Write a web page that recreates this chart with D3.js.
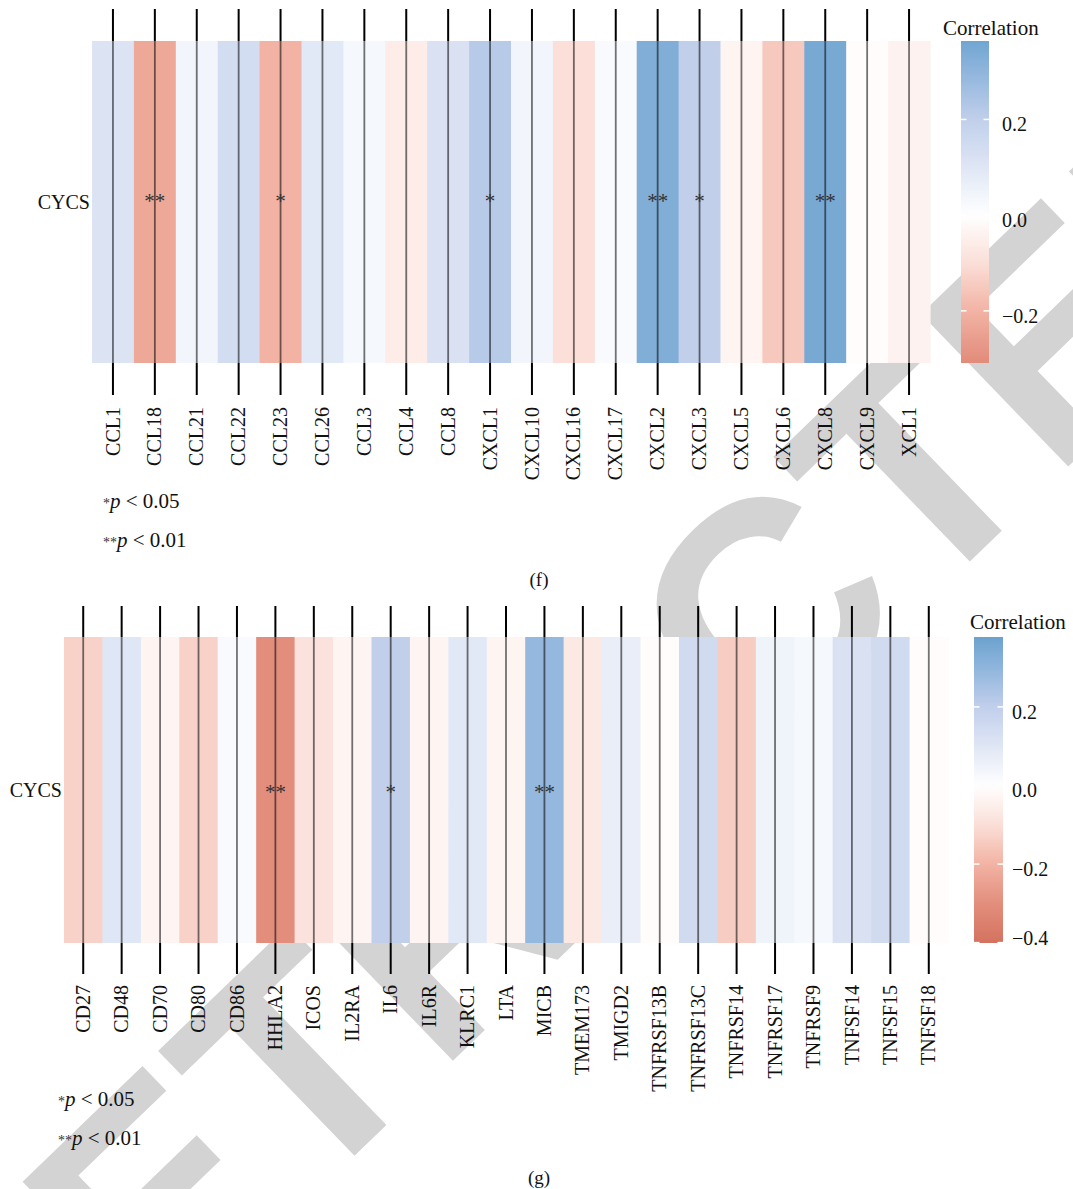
<!DOCTYPE html>
<html>
<head>
<meta charset="utf-8">
<script src="https://cdn.jsdelivr.net/npm/d3@7"></script>
<style>
  body { margin: 0; background: #fff; }
  text { font-family: "Liberation Serif", "Times New Roman", serif; }
</style>
</head>
<body>
<svg id="chart" width="1073" height="1189"></svg>
<script>
// ---- data -------------------------------------------------------------
const rowLabel = "CYCS";

// panel (f): chemokines
const genesF = ["CCL1","CCL18","CCL21","CCL22","CCL23","CCL26","CCL3","CCL4","CCL8","CXCL1",
                "CXCL10","CXCL16","CXCL17","CXCL2","CXCL3","CXCL5","CXCL6","CXCL8","CXCL9","XCL1"];
const corrF  = [0.11,-0.23,0.04,0.14,-0.20,0.09,0.03,-0.06,0.12,0.22,
                0.04,-0.10,0.02,0.33,0.20,-0.03,-0.15,0.35,-0.01,-0.04];
const sigF   = ["","**","","","*","","","","","*",
                "","","","**","*","","","**","",""];

// panel (g): immunostimulators
const genesG = ["CD27","CD48","CD70","CD80","CD86","HHLA2","ICOS","IL2RA","IL6","IL6R","KLRC1","LTA",
                "MICB","TMEM173","TMIGD2","TNFRSF13B","TNFRSF13C","TNFRSF14","TNFRSF17","TNFRSF9",
                "TNFSF14","TNFSF15","TNFSF18"];
const corrG  = [-0.13,0.10,-0.03,-0.13,0.02,-0.30,-0.09,-0.03,0.20,-0.03,0.09,-0.03,
                0.29,-0.07,0.07,-0.01,0.15,-0.14,0.05,0.03,
                0.12,0.15,-0.01];
const sigG   = ["","","","","","**","","","*","","","",
                "**","","","","","","","",
                "","",""];

// colour bar limits and ticks
const legendRangeF = [-0.309, 0.364];
const legendRangeG = [-0.401, 0.378];
const legendTicksF = [-0.2, 0.0, 0.2];
const legendTicksG = [-0.4, -0.2, 0.0, 0.2];
const legendTitle = "Correlation";

// diverging palette
const paletteValues = [-0.40, -0.30, -0.20, -0.10, 0.00, 0.10, 0.20, 0.30, 0.38];
const paletteColors = ["#d4725f","#e38e7d","#f2b3a4","#fbdfd8","#ffffff","#dfe6f5","#c1cfeb","#8fb5dc","#6aa2ce"];

const sigNotes = [["*", "0.05"], ["**", "0.01"]];
const panelTags = ["(f)", "(g)"];

// ---- drawing ----------------------------------------------------------
const svg = d3.select("#chart");
svg.append("rect").attr("width", 1073).attr("height", 1189).attr("fill", "#fff");

// background stamp, clipped to the page
svg.append("defs").append("clipPath").attr("id", "page")
  .append("rect").attr("width", 1073).attr("height", 1189);
svg.append("g").attr("clip-path", "url(#page)")
  .append("text")
  .attr("transform", "translate(-5,1503) rotate(-44)")
  .style("font-family", "'Liberation Sans', Arial, sans-serif")
  .attr("font-weight", "bold")
  .attr("font-size", 308)
  .attr("fill", "#d3d3d3")
  .text("RETRACTED");

const color = d3.scaleLinear()
  .domain(paletteValues)
  .range(paletteColors)
  .interpolate(d3.interpolateRgb)
  .clamp(true);

function drawPanel(cfg, idx) {
  const g = svg.append("g");
  const x = d3.scaleBand().domain(cfg.genes).range([cfg.x0, cfg.x1]);
  const bw = x.bandwidth();
  const rowMid = (cfg.y0 + cfg.y1) / 2;

  // cells
  g.selectAll("rect.cell")
    .data(cfg.genes.map((d, i) => ({ gene: d, v: cfg.values[i], s: cfg.sig[i] })))
    .join("rect")
    .attr("class", "cell")
    .attr("x", d => x(d.gene))
    .attr("width", bw + 0.6)
    .attr("y", cfg.y0)
    .attr("height", cfg.y1 - cfg.y0)
    .attr("fill", d => color(d.v));

  // guide lines running through the cells
  g.selectAll("line.inner")
    .data(cfg.genes)
    .join("line")
    .attr("x1", d => x(d) + bw / 2)
    .attr("x2", d => x(d) + bw / 2)
    .attr("y1", cfg.y0)
    .attr("y2", cfg.y1)
    .attr("stroke", "#000")
    .attr("stroke-opacity", 0.55)
    .attr("stroke-width", 1.8);

  // top ticks
  const top = g.append("g")
    .attr("transform", `translate(0,${cfg.y0})`)
    .call(d3.axisTop(x).tickSize(cfg.tickLen).tickFormat(""));
  top.select(".domain").remove();
  top.selectAll(".tick line").attr("stroke", "#000").attr("stroke-width", 2);

  // bottom ticks + gene labels
  const bottom = g.append("g")
    .attr("transform", `translate(0,${cfg.y1})`)
    .call(d3.axisBottom(x).tickSize(cfg.tickLen));
  bottom.select(".domain").remove();
  bottom.selectAll(".tick line").attr("stroke", "#000").attr("stroke-width", 2);
  bottom.selectAll(".tick text")
    .attr("transform", "rotate(-90)")
    .attr("x", -(cfg.tickLen + cfg.labelGap))
    .attr("y", 0)
    .attr("dy", "0.33em")
    .attr("text-anchor", "end")
    .attr("fill", "#111")
    .style("font-family", "'Liberation Serif', 'Times New Roman', serif")
    .style("font-size", "20px");

  // significance marks
  g.selectAll("text.sig")
    .data(cfg.genes.map((d, i) => ({ gene: d, s: cfg.sig[i] })).filter(d => d.s))
    .join("text")
    .attr("class", "sig")
    .attr("x", d => x(d.gene) + bw / 2)
    .attr("y", rowMid + cfg.starShift)
    .attr("text-anchor", "middle")
    .attr("font-size", 21)
    .attr("fill", "#333")
    .text(d => d.s);

  // row label
  g.append("text")
    .attr("x", cfg.rowLabelX)
    .attr("y", rowMid)
    .attr("dy", "0.35em")
    .attr("text-anchor", "end")
    .attr("font-size", 20)
    .attr("fill", "#111")
    .text(rowLabel);

  // colour bar
  const L = cfg.legend;
  const gradId = "grad" + idx;
  const grad = svg.append("defs").append("linearGradient")
    .attr("id", gradId)
    .attr("x1", 0).attr("y1", 1).attr("x2", 0).attr("y2", 0);
  const nStops = 40;
  d3.range(nStops + 1).forEach(k => {
    const v = L.range[0] + (L.range[1] - L.range[0]) * k / nStops;
    grad.append("stop").attr("offset", (k / nStops * 100) + "%").attr("stop-color", color(v));
  });
  const yLeg = d3.scaleLinear().domain(L.range).range([L.y1, L.y0]);
  g.append("rect")
    .attr("x", L.x).attr("y", L.y0)
    .attr("width", L.w).attr("height", L.y1 - L.y0)
    .attr("fill", `url(#${gradId})`);
  // white tick notches on both edges
  g.selectAll("line.notchL")
    .data(L.ticks)
    .join("line")
    .attr("x1", L.x).attr("x2", L.x + 5.5)
    .attr("y1", d => yLeg(d)).attr("y2", d => yLeg(d))
    .attr("stroke", "#fff").attr("stroke-width", 1.5);
  g.selectAll("line.notchR")
    .data(L.ticks)
    .join("line")
    .attr("x1", L.x + L.w - 5.5).attr("x2", L.x + L.w)
    .attr("y1", d => yLeg(d)).attr("y2", d => yLeg(d))
    .attr("stroke", "#fff").attr("stroke-width", 1.5);
  const legAxis = g.append("g")
    .attr("transform", `translate(${L.x + L.w},0)`)
    .call(d3.axisRight(yLeg).tickValues(L.ticks).tickSize(0).tickPadding(L.pad).tickFormat(d3.format(".1f")));
  legAxis.select(".domain").remove();
  legAxis.selectAll(".tick text")
    .attr("y", d => Math.min(yLeg(d) + 5, L.y1 - 5) - yLeg(d))
    .attr("fill", "#111")
    .style("font-family", "'Liberation Serif', 'Times New Roman', serif")
    .style("font-size", "20px");
  g.append("text")
    .attr("x", L.titleX).attr("y", L.titleY)
    .attr("font-size", 21)
    .attr("fill", "#111")
    .text(legendTitle);

  // significance notes
  sigNotes.forEach((n, i) => {
    const t = g.append("text")
      .attr("x", cfg.notes.x)
      .attr("y", cfg.notes.y[i])
      .attr("font-size", 21)
      .attr("fill", "#111");
    t.append("tspan").attr("font-size", 14).attr("fill", "#333").text(n[0]);
    t.append("tspan").attr("font-style", "italic").text("p");
    t.append("tspan").text(" < " + n[1]);
  });

  // panel tag
  g.append("text")
    .attr("x", cfg.tag.x).attr("y", cfg.tag.y)
    .attr("text-anchor", "middle")
    .attr("font-size", 19)
    .attr("fill", "#111")
    .text(panelTags[idx]);
}

drawPanel({
  genes: genesF, values: corrF, sig: sigF,
  x0: 92, x1: 930, y0: 41, y1: 363, tickLen: 32, labelGap: 12,
  starShift: 6, rowLabelX: 90,
  legend: { x: 961, w: 28, y0: 41, y1: 363, range: legendRangeF, ticks: legendTicksF,
            pad: 13, titleX: 943, titleY: 35 },
  notes: { x: 103, y: [508, 547] },
  tag: { x: 539, y: 586 }
}, 0);

drawPanel({
  genes: genesG, values: corrG, sig: sigG,
  x0: 64, x1: 948, y0: 637, y1: 943, tickLen: 31, labelGap: 11,
  starShift: 9, rowLabelX: 62,
  legend: { x: 974, w: 29, y0: 637, y1: 943, range: legendRangeG, ticks: legendTicksG,
            pad: 9, titleX: 970, titleY: 629 },
  notes: { x: 58, y: [1106, 1145] },
  tag: { x: 539, y: 1184 }
}, 1);
</script>
</body>
</html>
